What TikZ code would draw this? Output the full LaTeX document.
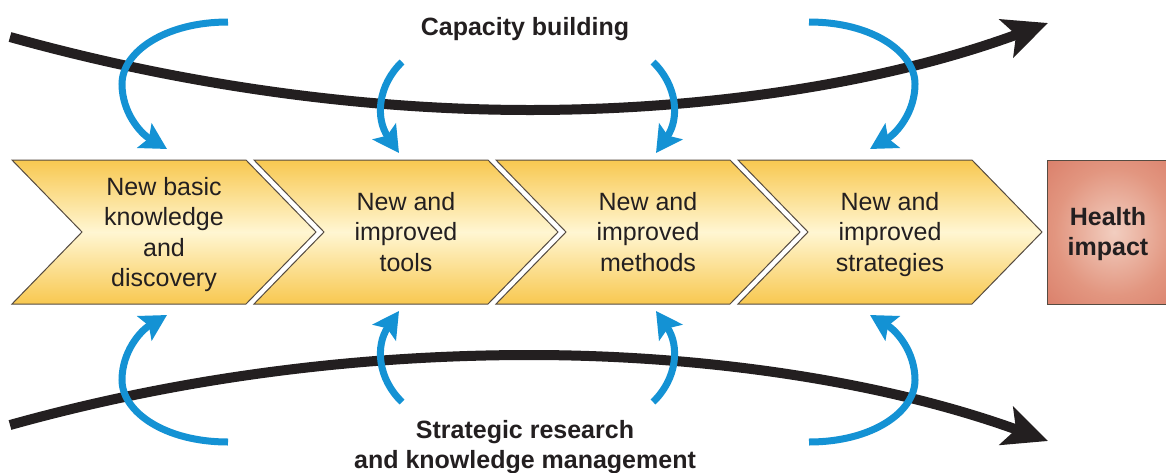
\documentclass[tikz,border=0pt]{standalone}
\usepackage{fontspec}
\setmainfont{Liberation Sans}
\usetikzlibrary{arrows.meta}
\definecolor{blueA}{RGB}{20,146,212}
\definecolor{inkA}{RGB}{35,31,32}
\definecolor{goldA}{RGB}{248,200,80}
\definecolor{paleA}{RGB}{255,246,210}
\definecolor{redIn}{RGB}{242,206,192}
\definecolor{redMid}{RGB}{226,150,128}
\definecolor{redOut}{RGB}{212,108,88}
\definecolor{edgeA}{RGB}{85,75,65}
\pgfdeclareradialshading{healthshade}{\pgfpoint{0bp}{0bp}}{color(0bp)=(redIn); color(22bp)=(redMid); color(48bp)=(redOut); color(80bp)=(redOut)}
\begin{document}
\begin{tikzpicture}[x=1pt,y=-1pt,
  chev/.style={draw=edgeA, line width=1pt, top color=goldA, bottom color=goldA, middle color=paleA},
  lbl/.style={align=center, text=inkA, font=\fontsize{25}{30.5}\selectfont, inner sep=0pt, anchor=north},
  blbl/.style={lbl, font=\bfseries\fontsize{25}{30.5}\selectfont},
  flow/.style={line width=10pt, draw=inkA, -{Stealth[length=44pt,width=40pt,inset=10pt]}},
  loopar/.style={line width=7pt, draw=blueA, -{Stealth[length=26pt,width=28pt,inset=5pt]}}
]
\useasboundingbox[fill=white] (0,0) rectangle (1166,472);

% chevrons
\foreach \s in {12,254,496,738}{
  \path[chev] (\s,160) -- (\s+234,160) -- (\s+304,232) -- (\s+234,304) -- (\s,304) -- (\s+70,232) -- cycle;
}
% health box
\node[draw=edgeA, line width=1pt, shading=healthshade,
  minimum width=134pt, minimum height=144pt, inner sep=0pt] (health) at (1114,232) {};

% chevron labels
\node[lbl] (c1) at (164,177) {New basic\\knowledge\\and\\discovery};
\node[lbl] (c2) at (406,192) {New and\\improved\\tools};
\node[lbl] (c3) at (648,192) {New and\\improved\\methods};
\node[lbl] (c4) at (890,192) {New and\\improved\\strategies};
\node[blbl] (h) at (1108,207) {Health\\impact};

% titles
\node[blbl] (cap) at (525,17) {Capacity building};
\node[blbl] (srk) at (525,420) {Strategic research\\and knowledge management};

% black flows
\coordinate (tA) at (10,37);
\coordinate (tB) at (530,110);
\coordinate (tC) at (1048,23);
\draw[flow] (tA) .. controls (200,90) and (380,110) .. (tB)
  .. controls (700,110) and (880,85) .. (tC);
\coordinate (bA) at (10,425);
\coordinate (bB) at (530,355);
\coordinate (bC) at (1048,441);
\draw[flow] (bA) .. controls (200,372) and (380,355) .. (bB)
  .. controls (700,355) and (880,380) .. (bC);

% blue loops (top)
\draw[loopar] (228,22) .. controls (165,22) and (122,52) .. (122,84)
  .. controls (122,112) and (140,133) .. (167,149);
\draw[loopar] (402,62) .. controls (378,85) and (375,118) .. (399,153);
\draw[loopar] (653,62) .. controls (677,85) and (680,118) .. (656,153);
\draw[loopar] (809,22) .. controls (872,22) and (915,52) .. (915,84)
  .. controls (915,112) and (897,133) .. (870,149);
% blue loops (bottom)
\draw[loopar] (228,442) .. controls (165,442) and (122,412) .. (122,380)
  .. controls (122,352) and (140,331) .. (167,315);
\draw[loopar] (402,402) .. controls (378,379) and (375,346) .. (399,311);
\draw[loopar] (653,402) .. controls (677,379) and (680,346) .. (656,311);
\draw[loopar] (809,442) .. controls (872,442) and (915,412) .. (915,380)
  .. controls (915,352) and (897,331) .. (870,315);
\end{tikzpicture}
\end{document}
